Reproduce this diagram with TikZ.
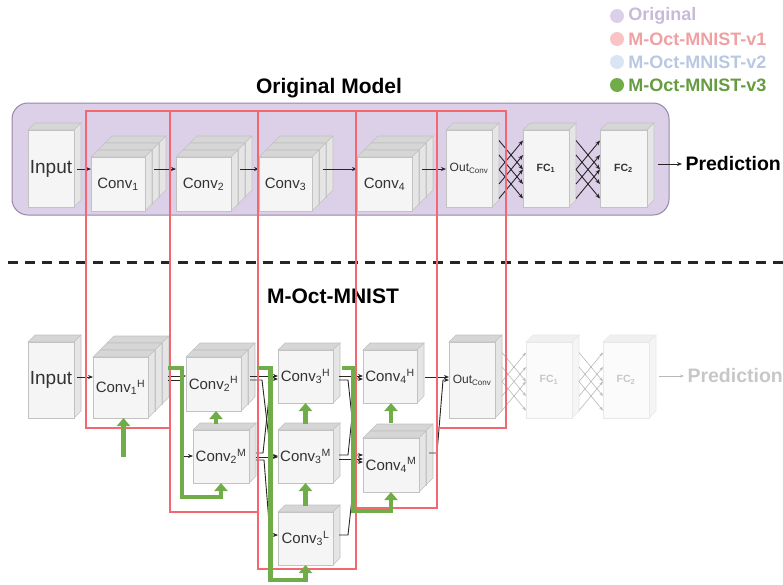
\documentclass[tikz,border=0pt]{standalone}
\usepackage{fontspec}
\setmainfont{Liberation Sans}
\usepackage{tikz}
\usetikzlibrary{positioning}
\usetikzlibrary{arrows.meta}
\usetikzlibrary{calc}

\definecolor{mypurple}{RGB}{220,208,232}
\definecolor{mypurpleedge}{RGB}{150,134,170}
\definecolor{myred}{RGB}{242,104,110}
\definecolor{mygreen}{RGB}{112,172,72}
\definecolor{myblue}{RGB}{218,228,242}
\definecolor{legpurple}{RGB}{200,186,216}
\definecolor{legred}{RGB}{238,160,162}
\definecolor{legblue}{RGB}{184,200,226}
\colorlet{cfront}{black!4}
\colorlet{ctop}{black!16}
\colorlet{cside}{black!10}
\colorlet{cedge}{black!24}
\colorlet{ctext}{black!80}

\newcommand{\lblbig}{\fontsize{19}{22}\selectfont}
\newcommand{\lblconv}{\fontsize{15}{18}\selectfont}
\newcommand{\lblout}{\fontsize{12}{14}\selectfont}
\newcommand{\lblfc}{\fontsize{10.5}{12}\selectfont\bfseries}
\newcommand{\lbltitle}{\fontsize{21}{24}\selectfont\bfseries}

\tikzset{
  frontface/.style={fill=cfront,draw=cedge,line width=0.6pt},
  topface/.style={fill=ctop,draw=cedge,line width=0.6pt},
  sideface/.style={fill=cside,draw=cedge,line width=0.6pt},
  blk/.style={frontface,inner sep=0pt,outer sep=0pt,text=ctext},
  arr/.style={-{Stealth[length=5pt,width=4pt]},line width=0.9pt,black!85},
  farr/.style={-{Stealth[length=4pt,width=3pt]},line width=0.6pt,black!28},
  gline/.style={-{Triangle[width=13pt,length=8pt]},line width=4.5pt,mygreen},
  redbox/.style={draw=myred,line width=1.5pt},
  legdot/.style={circle,inner sep=0pt,minimum size=14pt},
  legtxt/.style={font=\fontsize{18}{20}\selectfont\bfseries,inner sep=1pt},
}

% name, x, y (front top left), width, height, slabs, label
\newcommand{\cube}[7]{%
  \foreach \k in {#6,...,1}{%
    \begin{scope}[shift={({(\k-1)*7},{-(\k-1)*7})}]
      \filldraw[topface] (#2,#3) -- ++(7,-7) -- ++(#4,0) -- ++(-7,7) -- cycle;
      \filldraw[sideface] (#2+#4,#3) -- ++(7,-7) -- ++(0,#5) -- ++(-7,7) -- cycle;
      \ifnum\k>1 \filldraw[frontface] (#2,#3) rectangle ++(#4,#5);\fi
    \end{scope}}
  \node[blk,minimum width=#4pt,minimum height=#5pt] (#1) at (#2+#4/2,#3+#5/2) {#7};
}

\begin{document}
\begin{tikzpicture}[x=1pt,y=-1pt]
\useasboundingbox (0,0) rectangle (783,584);

% legend
\node[legdot,fill=mypurple] (dotA) at (617,16) {};
\node[legdot,fill=myred!40] (dotB) at (617,39) {};
\node[legdot,fill=myblue] (dotC) at (617,62) {};
\node[legdot,fill=mygreen] (dotD) at (617,85) {};
\node[legtxt,text=legpurple,right=3pt of dotA] (legA) {Original};
\node[legtxt,text=legred,right=3pt of dotB] (legB) {M-Oct-MNIST-v1};
\node[legtxt,text=legblue,right=3pt of dotC] (legC) {M-Oct-MNIST-v2};
\node[legtxt,text=mygreen!90!black,right=3pt of dotD] (legD) {M-Oct-MNIST-v3};

% original model
\node[font=\lbltitle] (titleA) at (329,88) {Original Model};
\draw[fill=mypurple,draw=mypurpleedge,line width=1pt,rounded corners=16pt] (12,103) rectangle (669,215);

\cube{in}{28}{130}{46}{77}{1}{\lblbig Input}
\cube{conv1}{91}{157}{54}{54}{3}{\lblconv Conv\textsubscript{1}}
\cube{conv2}{176}{157}{55}{54}{3}{\lblconv Conv\textsubscript{2}}
\cube{conv3}{259}{157}{53}{54}{3}{\lblconv Conv\textsubscript{3}}
\cube{conv4}{357}{157}{55}{54}{3}{\lblconv Conv\textsubscript{4}}
\cube{out}{446}{130}{46}{77}{1}{\lblout Out\textsubscript{Conv}}
\cube{fc1}{523}{130}{46}{77}{1}{\lblfc FC\textsubscript{1}}
\cube{fc2}{600}{130}{47}{77}{1}{\lblfc FC\textsubscript{2}}
\node[anchor=west,font=\fontsize{19.5}{22}\selectfont\bfseries] (pred) at (682,164) {Prediction};

\coordinate (rowA) at (0,169);
\draw[arr] ($(in.east |- rowA)+(3,0)$) -- (conv1.west |- rowA);
\draw[arr] ($(conv1.east |- rowA)+(9,0)$) -- (conv2.west |- rowA);
\draw[arr] ($(conv2.east |- rowA)+(9,0)$) -- (conv3.west |- rowA);
\draw[arr] ($(conv3.east |- rowA)+(11,0)$) -- (conv4.west |- rowA);
\draw[arr] ($(conv4.east |- rowA)+(10,0)$) -- (out.west |- rowA);
\foreach \a/\b in {1/3,3/1,2/4,4/2,3/5,5/3}{
  \draw[arr] ($(out.north east)+(7,{-4+14.5*\a})$) -- ($(fc1.north west)+(0,{-4+14.5*\b})$);
  \draw[arr] ($(fc1.north east)+(7,{-4+14.5*\a})$) -- ($(fc2.north west)+(0,{-4+14.5*\b})$);
}
\draw[arr] ($(fc2.east |- pred.west)+(11,0)$) -- (pred.west);

% separator
\draw[line width=3pt,dash pattern=on 10pt off 7pt,black!85] (8,262) -- (783,262);

% M-Oct-MNIST
\node[font=\lbltitle] (titleB) at (333,296) {M-Oct-MNIST};

\cube{inO}{28}{342}{46}{76}{1}{\lblbig Input}
\cube{conv1H}{93}{357}{55}{61}{3}{\lblconv Conv\textsubscript{1}\textsuperscript{H}}
\cube{conv2H}{186}{357}{55}{54}{2}{\lblconv Conv\textsubscript{2}\textsuperscript{H}}
\cube{conv2M}{193}{430}{56}{53}{1}{\lblconv Conv\textsubscript{2}\textsuperscript{M}}
\cube{conv3H}{278}{350}{55}{53}{1}{\lblconv Conv\textsubscript{3}\textsuperscript{H}}
\cube{conv3M}{278}{430}{55}{53}{1}{\lblconv Conv\textsubscript{3}\textsuperscript{M}}
\cube{conv3L}{278}{512}{55}{53}{1}{\lblconv Conv\textsubscript{3}\textsuperscript{L}}
\cube{conv4H}{363}{350}{54}{53}{1}{\lblconv Conv\textsubscript{4}\textsuperscript{H}}
\cube{conv4M}{363}{438}{56}{54}{2}{\lblconv Conv\textsubscript{4}\textsuperscript{M}}
\cube{outO}{449}{342}{46}{76}{1}{\lblout Out\textsubscript{Conv}}
\begin{scope}
  \colorlet{cfront}{black!1.5}
  \colorlet{ctop}{black!6}
  \colorlet{cside}{black!4}
  \colorlet{cedge}{black!9}
  \colorlet{ctext}{black!22}
  \cube{fc1O}{526}{342}{46}{76}{1}{\lblfc FC\textsubscript{1}}
  \cube{fc2O}{603}{342}{46}{76}{1}{\lblfc FC\textsubscript{2}}
\end{scope}
\node[anchor=west,font=\fontsize{19.5}{22}\selectfont\bfseries,text=black!22] (predO) at (684,376) {Prediction};

\coordinate (rowH) at (0,377);
\coordinate (rowM) at (0,456);
\coordinate (rowL) at (0,535);
\draw[arr] ($(inO.east |- rowH)+(3,0)$) -- (conv1H.west |- rowH);
\draw[arr] ($(conv1H.east |- rowH)+(20,-1)$) -- ($(conv2H.west |- rowH)+(0,-1)$);
\draw[arr] ($(conv1H.east |- rowH)+(20,3)$) -| ($(conv2M.west |- rowM)+(-12,0)$) -- (conv2M.west |- rowM);
\draw[arr] ($(conv2H.east |- rowH)+(9,-1)$) -- ($(conv3H.west |- rowH)+(0,-1)$);
\draw[arr] ($(conv2H.east |- rowH)+(9,3)$) -- ++(12,0) -- ($(conv3M.west |- rowM)+(-7,0)$) -- (conv3M.west |- rowM);
\draw[arr] ($(conv2M.east |- rowM)+(7,-3)$) -- ++(7,0) -- ($(conv3H.west |- rowH)+(-7,2)$) -- ($(conv3H.west |- rowH)+(0,2)$);
\draw[arr] ($(conv2M.east |- rowM)+(7,1)$) -- ($(conv3M.west |- rowM)+(0,1)$);
\draw[arr] ($(conv2M.east |- rowM)+(7,4)$) -- ++(8,0) -- ($(conv3L.west |- rowL)+(-8,0)$) -- (conv3L.west |- rowL);
\draw[arr] ($(conv3H.east |- rowH)+(6,-1)$) -- ($(conv4H.west |- rowH)+(0,-1)$);
\draw[arr] ($(conv3H.east |- rowH)+(6,3)$) -- ++(9,0) -- ($(conv4M.west |- rowM)+(-7,-1)$) -- ($(conv4M.west |- rowM)+(0,-1)$);
\draw[arr] ($(conv3M.east |- rowM)+(6,-1)$) -- ++(9,0) -- ($(conv4H.west |- rowH)+(-7,2)$) -- ($(conv4H.west |- rowH)+(0,2)$);
\draw[arr] ($(conv3M.east |- rowM)+(6,3)$) -- ($(conv4M.west |- rowM)+(0,3)$);
\draw[arr] ($(conv3L.east |- rowL)+(6,0)$) -- ++(9,0) -- ($(conv4M.west |- rowM)+(-7,6)$) -- ($(conv4M.west |- rowM)+(0,6)$);
\draw[arr] ($(conv4H.east |- rowH)+(8,0)$) -- (outO.west |- rowH);
\draw[arr] ($(conv4M.east |- rowM)+(10,-3)$) -- ++(8,0) -- ($(outO.west |- rowH)+(-6,3)$) -- ($(outO.west |- rowH)+(0,3)$);
\foreach \a/\b in {1/3,3/1,2/4,4/2,3/5,5/3}{
  \draw[farr] ($(outO.north east)+(7,{-4+14.5*\a})$) -- ($(fc1O.north west)+(0,{-4+14.5*\b})$);
  \draw[farr] ($(fc1O.north east)+(7,{-4+14.5*\a})$) -- ($(fc2O.north west)+(0,{-4+14.5*\b})$);
}
\draw[farr] ($(fc2O.east |- predO.west)+(10,0)$) -- (predO.west);

% stages (v1)
\draw[redbox] (86,111) rectangle (170,428);
\draw[redbox] (170,111) rectangle (258,512);
\draw[redbox] (258,111) rectangle (356,569);
\draw[redbox] (356,111) rectangle (437,508);
\draw[redbox] (437,111) rectangle (506,428);

% green paths (v3)
\draw[gline] ($(conv1H.south)+(3,39)$) -- ($(conv1H.south)+(3,0)$);
\draw[gline] ($(conv1H.north east)+(20,11)$) -| ($(conv2M.south)+(-39,14)$) -| (conv2M.south);
\draw[gline] ($(conv2M.north)+(-5,-6)$) -- ($(conv2M.north)+(-5,-19)$);
\draw[gline] ($(conv2H.north east)+(16,11)$) -| ($(conv3L.south)+(-35,15)$) -| (conv3L.south);
\draw[gline] ($(conv3L.north)+(0,-6)$) -- (conv3M.south);
\draw[gline] ($(conv3M.north)+(0,-6)$) -- (conv3H.south);
\draw[gline] ($(conv3H.north east)+(9,18)$) -| ($(conv4M.south)+(-38,19)$) -| (conv4M.south);
\draw[gline] ($(conv4M.north)+(0,-15)$) -- ($(conv4M.north)+(0,-35)$);
\end{tikzpicture}
\end{document}
